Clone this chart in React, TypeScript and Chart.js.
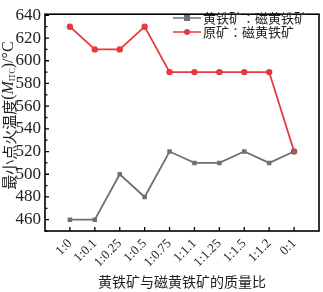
import React, { useEffect, useRef } from "react";
import { Chart, registerables } from "chart.js";

Chart.register(...registerables);

const categories = ["1:0", "1:0.1", "1:0.25", "1:0.5", "1:0.75", "1:1.1", "1:1.25", "1:1.5", "1:1.2", "0:1"];
const pyrrhotiteSeries = [460, 460, 500, 480, 520, 510, 510, 520, 510, 520];
const rawOreSeries = [630, 610, 610, 630, 590, 590, 590, 590, 590, 520];
const seriesNames = ["黄铁矿∶磁黄铁矿", "原矿∶磁黄铁矿"];
const yMajorTicks = [460, 480, 500, 520, 540, 560, 580, 600, 620, 640];
const yMinorTicks = [450, 470, 490, 510, 530, 550, 570, 590, 610, 630];
const xTitle = "黄铁矿与磁黄铁矿的质量比";

const SERIF = "'Liberation Serif', 'Noto Sans CJK SC', serif";
const CJK = "'Noto Sans CJK SC', 'Liberation Serif', sans-serif";

const colors = ["#707070", "#e8383d"];

const framePlugin = {
  id: "frame",
  afterDraw(chart: any) {
    const { ctx, chartArea: a, scales } = chart;
    const x = scales.x;
    const y = scales.y;
    ctx.save();
    ctx.strokeStyle = "#000";
    ctx.lineWidth = 1.6;
    ctx.strokeRect(a.left, a.top, a.right - a.left, a.bottom - a.top);
    ctx.lineWidth = 1.3;
    ctx.beginPath();
    yMajorTicks.forEach((v) => {
      const py = y.getPixelForValue(v);
      ctx.moveTo(a.left, py);
      ctx.lineTo(a.left + 4, py);
    });
    yMinorTicks.forEach((v) => {
      const py = y.getPixelForValue(v);
      ctx.moveTo(a.left, py);
      ctx.lineTo(a.left + 2.5, py);
    });
    categories.forEach((_, i) => {
      const px = x.getPixelForValue(i);
      ctx.moveTo(px, a.bottom);
      ctx.lineTo(px, a.bottom - 4);
    });
    ctx.stroke();

    // legend
    const rows = [18, 32];
    chart.data.datasets.forEach((ds: any, i: number) => {
      const ry = rows[i];
      const x1 = 173;
      const x2 = 201;
      ctx.strokeStyle = ds.borderColor;
      ctx.lineWidth = 1.5;
      ctx.beginPath();
      ctx.moveTo(x1, ry);
      ctx.lineTo(x2, ry);
      ctx.stroke();
      ctx.fillStyle = ds.borderColor;
      const mx = (x1 + x2) / 2;
      if (i === 0) {
        ctx.fillRect(mx - 3, ry - 3, 6, 6);
      } else {
        ctx.beginPath();
        ctx.arc(mx, ry, 3, 0, Math.PI * 2);
        ctx.fill();
      }
      ctx.fillStyle = "#222";
      ctx.font = "13px " + CJK;
      ctx.textBaseline = "middle";
      ctx.textAlign = "left";
      ctx.fillText(ds.label, 203, ry);
    });

    // x title
    ctx.fillStyle = "#222";
    ctx.font = "14px " + CJK;
    ctx.textAlign = "center";
    ctx.textBaseline = "middle";
    ctx.fillText(xTitle, (a.left + a.right) / 2, 282);

    // y title with subscript
    const parts = [
      { t: "最小点火温度", f: "15px " + CJK, dy: 0 },
      { t: "(", f: "16px " + SERIF, dy: 0 },
      { t: "M", f: "italic 16px " + SERIF, dy: 0 },
      { t: "ITC", f: "8px " + SERIF, dy: 4 },
      { t: ")/°C", f: "16px " + SERIF, dy: 0 },
    ];
    let total = 0;
    parts.forEach((p) => {
      ctx.font = p.f;
      total += ctx.measureText(p.t).width;
    });
    ctx.translate(9, (a.top + a.bottom) / 2 - 7);
    ctx.rotate(-Math.PI / 2);
    ctx.textAlign = "left";
    ctx.textBaseline = "middle";
    let cx = -total / 2;
    parts.forEach((p) => {
      ctx.font = p.f;
      ctx.fillText(p.t, cx, p.dy);
      cx += ctx.measureText(p.t).width;
    });
    ctx.restore();
  },
};

export default function App() {
  const ref = useRef<HTMLCanvasElement>(null);
  useEffect(() => {
    document.body.style.margin = "0";
    const chart = new Chart(ref.current!, {
      type: "line",
      data: {
        datasets: [
          {
            label: seriesNames[0],
            data: pyrrhotiteSeries.map((v, i) => ({ x: i, y: v })),
            borderColor: colors[0],
            backgroundColor: colors[0],
            borderWidth: 1.8,
            pointStyle: "rect",
            pointRadius: 3.2,
            pointBorderWidth: 0,
          },
          {
            label: seriesNames[1],
            data: rawOreSeries.map((v, i) => ({ x: i, y: v })),
            borderColor: colors[1],
            backgroundColor: colors[1],
            borderWidth: 1.8,
            pointStyle: "circle",
            pointRadius: 3.2,
            pointBorderWidth: 0,
          },
        ],
      },
      options: {
        animation: false,
        responsive: false,
        layout: { padding: { top: 6, right: 4, left: 0, bottom: 0 } },
        plugins: { legend: { display: false }, tooltip: { enabled: false } },
        scales: {
          x: {
            type: "linear",
            min: -1,
            max: 10,
            grid: { display: false, drawTicks: false },
            border: { display: false },
            afterBuildTicks: (s: any) => {
              s.ticks = categories.map((_, i) => ({ value: i }));
            },
            afterFit: (s: any) => {
              s.height = 61;
            },
            ticks: {
              autoSkip: false,
              maxRotation: 45,
              minRotation: 45,
              padding: 5,
              color: "#222",
              font: { family: SERIF, size: 13 },
              callback: (v: any) => categories[v] ?? "",
            },
          },
          y: {
            min: 450,
            max: 641,
            grid: { display: false, drawTicks: false },
            border: { display: false },
            afterBuildTicks: (s: any) => {
              s.ticks = yMajorTicks.map((v) => ({ value: v }));
            },
            afterFit: (s: any) => {
              s.width = 45;
            },
            ticks: {
              padding: 4,
              color: "#222",
              font: { family: SERIF, size: 17 },
            },
          },
        },
      },
      plugins: [framePlugin],
    });
    return () => chart.destroy();
  }, []);
  return (
    <div style={{ width: 323, height: 292 }}>
      <canvas ref={ref} width={323} height={292} style={{ display: "block" }} />
    </div>
  );
}
